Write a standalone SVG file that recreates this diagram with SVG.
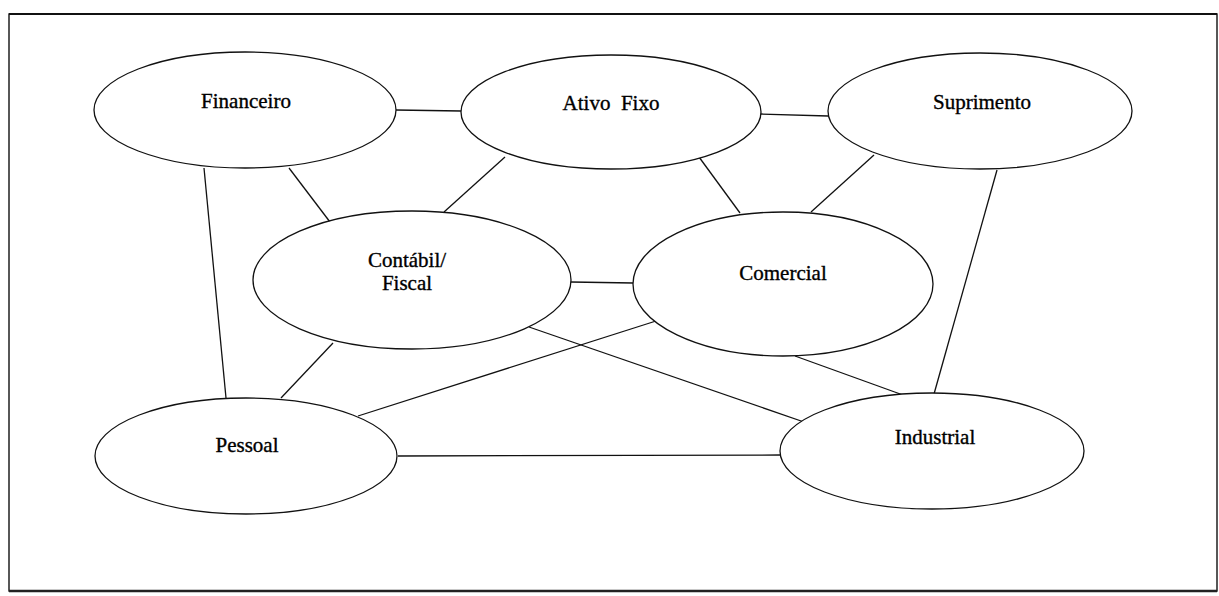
<svg xmlns="http://www.w3.org/2000/svg" width="1219" height="596" viewBox="0 0 1219 596">
  <style>
    .frame { fill: none; stroke: #111; stroke-width: 1.4; }
    .node ellipse { fill: #fff; stroke: #111; stroke-width: 1.3; }
    .node text { font-family: "Liberation Serif", "Times New Roman", serif; font-size: 21px; fill: #000; stroke: #000; stroke-width: 0.35; text-anchor: middle; white-space: pre; }
    #connectors line { stroke: #111; stroke-width: 1.3; }
  </style>
  <rect x="0" y="0" width="1219" height="596" fill="#fff"/>
  <!-- outer frame, with heavier top and bottom rules -->
  <rect class="frame" x="9" y="14" width="1208" height="577"/>
  <line x1="9" y1="14" x2="1217" y2="14" stroke="#111" stroke-width="2"/>
  <line x1="9" y1="591" x2="1217" y2="591" stroke="#222" stroke-width="2.5"/>

  <!-- links between the areas -->
  <g id="connectors">
    <line x1="396" y1="110" x2="461" y2="111"/>
    <line x1="761" y1="114" x2="828" y2="116"/>
    <line x1="289" y1="168" x2="330" y2="222"/>
    <line x1="505" y1="157" x2="444" y2="212"/>
    <line x1="699" y1="157" x2="740" y2="213"/>
    <line x1="874" y1="155" x2="811" y2="212"/>
    <line x1="997" y1="170" x2="934" y2="394"/>
    <line x1="204" y1="168" x2="226" y2="398"/>
    <line x1="571" y1="282" x2="633" y2="283"/>
    <line x1="333" y1="343" x2="281" y2="398"/>
    <line x1="656" y1="321" x2="358" y2="416"/>
    <line x1="529" y1="327" x2="804" y2="422"/>
    <line x1="795" y1="356" x2="903" y2="395"/>
    <line x1="398" y1="456" x2="780" y2="455"/>
  </g>

  <g id="financeiro" class="node">
    <ellipse cx="245" cy="110" rx="151" ry="58"/>
    <text x="246" y="108">Financeiro</text>
  </g>
  <g id="ativo-fixo" class="node">
    <ellipse cx="611" cy="112" rx="150" ry="57"/>
    <text x="611" y="110" xml:space="preserve">Ativo  Fixo</text>
  </g>
  <g id="suprimento" class="node">
    <ellipse cx="980" cy="111" rx="152" ry="58"/>
    <text x="982" y="109">Suprimento</text>
  </g>
  <g id="contabil-fiscal" class="node">
    <ellipse cx="412" cy="280" rx="159" ry="69"/>
    <text x="407" y="267">Contábil/</text>
    <text x="407" y="290">Fiscal</text>
  </g>
  <g id="comercial" class="node">
    <ellipse cx="783" cy="284" rx="150" ry="72"/>
    <text x="783" y="280">Comercial</text>
  </g>
  <g id="pessoal" class="node">
    <ellipse cx="246" cy="456" rx="151" ry="58"/>
    <text x="247" y="452">Pessoal</text>
  </g>
  <g id="industrial" class="node">
    <ellipse cx="932" cy="451" rx="152" ry="58"/>
    <text x="935" y="444">Industrial</text>
  </g>
</svg>
